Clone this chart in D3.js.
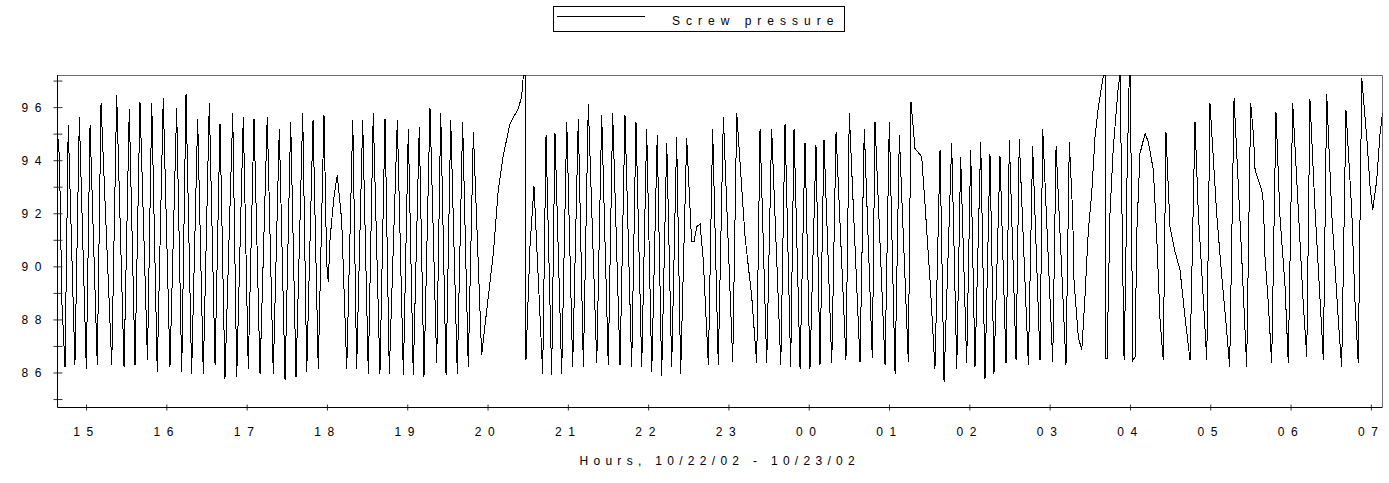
<!DOCTYPE html>
<html lang="en">
<head>
  <meta charset="UTF-8">
  <title>Screw pressure</title>
  <script src="https://d3js.org/d3.v7.min.js"></script>
  <style>
    body { margin: 0; background: #fff; }
    svg { display: block; }
    text { font-family: Arial, "Liberation Sans", sans-serif; fill: #000; }
    .tick-label { font-size: 12px; letter-spacing: 6.6px; }
    .axis-title { font-size: 12px; letter-spacing: 5.3px; }
    .legend-text { font-size: 12px; letter-spacing: 6px; }
    .trace { shape-rendering: crispEdges; }
  </style>
</head>
<body>
  <svg id="chart"></svg>
  <script>
    // minutes after 14:00 on 10/22/02
    const minutes = [
      38.3, 38.6, 39.8, 40.5, 42.0, 44.3,
      46.7, 51.7, 55.0, 60.2, 63.0, 68.4, 71.2, 79.2, 82.9, 88.4, 92.3, 96.6, 100.3, 105.9, 109.1, 113.2, 117.7, 122.7, 127.7, 131.5, 134.7, 138.9, 143.4, 147.6, 152.1, 156.4,
      160.1, 163.8, 169.6, 172.6, 177.5, 181.2, 185.5, 190.0, 195.4, 199.9, 204.4, 208.7, 212.9, 216.9, 221.9, 224.9, 229.6, 233.5, 237.8, 239.8, 241.0, 242.3, 243.6, 245.3, 247.7, 251.0, 254.8, 259.3, 262.2, 266.7, 270.9, 274.6, 279.6, 283.4,
      286.6, 292.6, 297.1, 300.8, 304.5, 309.0, 312.5, 317.0, 322.0, 325.0, 329.0, 332.5, 337.4, 341.4, 345.6, 349.4, 355.6, 359.4, 364.3, 368.0, 371.8, 376.8, 383.0, 385.5, 386.7, 388.0, 388.7, 391.7, 394.7, 401.2, 403.7, 407.9, 410.4,
      415.4, 419.2, 423.6, 427.8, 431.6, 435.3, 441.6, 445.3, 450.2, 453.5, 459.0, 462.7, 467.7, 470.9, 475.2, 478.9, 482.7, 486.8, 490.1, 493.9, 497.6, 501.3, 504.3, 508.8, 512.5, 514.3, 516.3, 518.8, 521.2, 525.0, 528.2, 532.4, 536.2,
      543.2, 546.2, 552.4, 557.4, 561.1, 563.6, 568.6, 572.3, 579.1, 582.3, 586.5, 589.0, 593.5, 597.2, 600.9, 605.4, 608.4, 611.4, 617.2, 620.4, 627.8, 630.3, 638.3, 641.5, 647.5, 649.5, 657.0, 660.2,
      664.5, 667.7, 674.4, 676.4, 679.4, 684.4, 686.9, 690.6, 694.3, 698.1, 701.1, 706.8, 710.6, 713.5, 718.0, 721.0, 724.2, 728.5, 731.7, 735.4, 738.4, 742.9, 747.4, 749.9, 754.9, 757.3, 764.1, 767.3, 772.8, 774.8, 782.3, 784.8, 792.2,
      794.7, 797.2, 798.2, 801.4, 804.0, 806.4, 808.9, 811.4, 813.9, 816.4, 820.1, 821.7, 822.0, 822.9, 825.1, 827.6, 831.3, 832.6, 835.6, 836.7, 837.6, 839.5, 840.3, 842.1, 843.8, 845.1, 847.5, 851.3, 853.7, 857.5, 860.0, 862.5, 864.9, 866.9, 869.9, 873.7, 877.4, 881.1, 884.9, 888.6, 891.1, 893.6, 897.4, 899.8, 904.8, 908.6, 911.8, 914.5,
      917.8, 921.0, 923.5, 925.2, 927.2, 930.2, 932.2, 933.5, 938.5, 939.7, 940.9, 943.4, 945.9, 949.1, 952.1, 955.9, 958.3, 961.6, 965.8, 969.5, 972.1, 974.5, 978.3, 983.3, 984.5, 987.0, 990.8, 995.7, 998.2, 1001.4, 1005.7, 1008.2, 1010.6, 1013.2, 1016.9, 1019.4, 1021.4, 1024.4, 1026.9, 1028.7
    ];

    const pressure = [
      93.0, 95.1, 94.3, 93.0, 88.6, 86.21,
      95.32, 86.28, 95.64, 86.15, 95.32, 86.28, 96.14, 86.28, 96.45, 86.21, 95.91, 86.28, 96.20, 86.46, 96.16, 86.03, 96.33, 86.21, 95.95, 86.03, 96.49, 85.96, 95.57, 85.96, 96.14, 86.28,
      95.38, 85.77, 95.76, 85.84, 95.64, 86.15, 95.57, 85.96, 95.64, 85.96, 95.19, 85.71, 95.45, 85.84, 95.76, 86.03, 95.51, 86.15, 95.70, 90.11, 89.42, 91.0, 91.74, 92.62, 93.44, 91.74, 86.15, 95.51, 86.15, 95.51, 85.96, 95.76, 85.96, 95.57,
      85.96, 95.51, 85.90, 95.16, 85.90, 95.26, 85.84, 95.95, 86.34, 95.79, 85.90, 95.51, 85.96, 95.45, 86.21, 95.07, 86.65, 88.35, 90.48, 92.87, 94.19, 95.38, 95.95, 96.39, 97.17, 97.2, 86.46, 90.74, 93.02, 85.96, 94.94, 85.90, 95.01,
      85.96, 95.45, 86.21, 95.57, 86.21, 96.11, 86.34, 95.70, 86.28, 95.76, 86.28, 95.70, 86.21, 95.45, 86.21, 95.16, 86.03, 94.94, 85.86, 94.66, 86.21, 94.88, 85.96, 94.83, 90.92, 90.92, 91.5, 91.59, 90.23, 86.28, 95.16, 86.28, 95.64,
      86.40, 95.76, 91.11, 88.85, 86.34, 95.19, 86.34, 95.16, 86.28, 95.38, 86.21, 95.19, 86.15, 94.66, 86.15, 94.57, 86.28, 94.76, 86.34, 95.07, 86.46, 95.76, 86.40, 95.19, 86.53, 95.45, 86.28, 95.45,
      85.96, 94.94, 86.40, 96.20, 94.44, 94.13, 92.31, 89.48, 86.15, 94.38, 85.65, 94.63, 86.15, 94.13, 86.34, 94.38, 86.21, 94.69, 85.77, 94.25, 85.96, 94.15, 86.34, 94.76, 86.46, 94.78, 86.28, 94.53, 86.46, 95.19, 86.40, 94.53, 86.28,
      94.69, 91.99, 89.48, 87.34, 86.84, 88.85, 91.36, 92.75, 94.88, 96.01, 97.17, 97.2, 86.53, 86.53, 91.99, 94.51, 96.77, 97.2, 86.46, 89.35, 92.87, 97.2, 97.2, 86.46, 86.59, 91.24, 94.25, 95.01, 94.69, 93.63, 91.11, 87.97, 86.46, 95.07, 91.49, 90.55, 89.86, 88.10, 86.46, 95.45, 91.99, 89.86, 86.46, 96.14, 91.99, 89.61, 87.85, 86.21,
      96.33, 93.0, 90.36, 88.47, 86.21, 96.14, 95.01, 93.63, 92.87, 92.37, 90.36, 88.60, 86.34, 95.82, 91.87, 89.23, 86.34, 96.14, 92.12, 88.60, 86.59, 96.29, 92.12, 87.60, 86.46, 96.49, 91.99, 87.97, 86.21, 95.89, 92.12, 88.60, 86.34, 97.08, 94.88, 93.00, 92.12, 93.25, 95.01, 95.76
    ];

    const yTicks = [85, 86, 87, 88, 89, 90, 91, 92, 93, 94, 95, 96, 97];
    const yLabels = [86, 88, 90, 92, 94, 96];
    const seriesName = "Screw pressure";
    const xTitle = "Hours, 10/22/02 - 10/23/02";

    const W = 1389, H = 483;
    const plot = { left: 57, right: 1382.5, top: 75, bottom: 407 };

    const t0 = new Date(2002, 9, 22, 14, 0, 0);
    const toDate = m => new Date(t0.getTime() + m * 60000);
    const data = minutes.map((m, i) => ({ t: toDate(m), v: pressure[i] }));

    const svg = d3.select("#chart").attr("width", W).attr("height", H);

    const x = d3.scaleTime()
      .domain([toDate(38.3), toDate(1028.7)])
      .range([plot.left, plot.right]);

    const y = d3.scaleLinear()
      .domain([84.7, 97.21])
      .range([plot.bottom, plot.top]);

    // clip for the trace
    svg.append("clipPath").attr("id", "plot-clip")
      .append("rect")
      .attr("x", plot.left).attr("y", plot.top)
      .attr("width", plot.right - plot.left).attr("height", plot.bottom - plot.top);

    // top and right frame
    svg.append("path")
      .attr("d", `M${plot.left},${plot.top + 0.5}H${plot.right}V${plot.bottom}`)
      .attr("fill", "none")
      .attr("stroke", "#6e6e6e")
      .attr("stroke-width", 1);

    // the trace
    const line = d3.line()
      .x(d => x(d.t))
      .y(d => y(d.v));

    svg.append("path")
      .datum(data)
      .attr("class", "trace")
      .attr("clip-path", "url(#plot-clip)")
      .attr("fill", "none")
      .attr("stroke", "#000")
      .attr("stroke-width", 1)
      .attr("d", line);

    // x axis
    const xAxis = svg.append("g")
      .attr("transform", `translate(0,${plot.bottom})`)
      .call(d3.axisBottom(x)
        .ticks(d3.timeHour.every(1))
        .tickFormat(d3.timeFormat("%H"))
        .tickSizeOuter(0));
    xAxis.select(".domain").remove();
    xAxis.attr("font-size", null).attr("font-family", null);
    xAxis.selectAll(".tick line").attr("y1", -2.5).attr("y2", 3.5).attr("stroke", "#333");
    xAxis.selectAll(".tick text")
      .attr("class", "tick-label")
      .attr("y", 29).attr("dy", null);

    // y axis
    const yAxis = svg.append("g")
      .attr("transform", `translate(${plot.left},0)`)
      .call(d3.axisLeft(y)
        .tickValues(yTicks)
        .tickFormat(d => yLabels.includes(d) ? d : "")
        .tickSizeOuter(0));
    yAxis.select(".domain").remove();
    yAxis.attr("font-size", null).attr("font-family", null);
    yAxis.selectAll(".tick line").attr("x1", -3.5).attr("x2", 5.5).attr("stroke", "#333");
    yAxis.selectAll(".tick text")
      .attr("class", "tick-label")
      .attr("x", -9).attr("dy", "0.36em");

    // axis lines
    svg.append("path")
      .attr("d", `M${plot.left + 0.5},${plot.top}V${plot.bottom + 0.5}H${plot.right}`)
      .attr("fill", "none")
      .attr("stroke", "#000")
      .attr("stroke-width", 1);

    // x title
    svg.append("text")
      .attr("class", "axis-title")
      .attr("x", (plot.left + plot.right) / 2)
      .attr("y", 465)
      .attr("text-anchor", "middle")
      .text(xTitle);

    // legend
    const legend = svg.append("g");
    legend.append("rect")
      .attr("x", 553.5).attr("y", 6.5)
      .attr("width", 291).attr("height", 25)
      .attr("fill", "none")
      .attr("stroke", "#000");
    legend.append("line")
      .attr("x1", 557).attr("x2", 645)
      .attr("y1", 16.5).attr("y2", 16.5)
      .attr("stroke", "#000");
    legend.append("text")
      .attr("class", "legend-text")
      .attr("x", 672)
      .attr("y", 25)
      .text(seriesName);
  </script>
</body>
</html>
